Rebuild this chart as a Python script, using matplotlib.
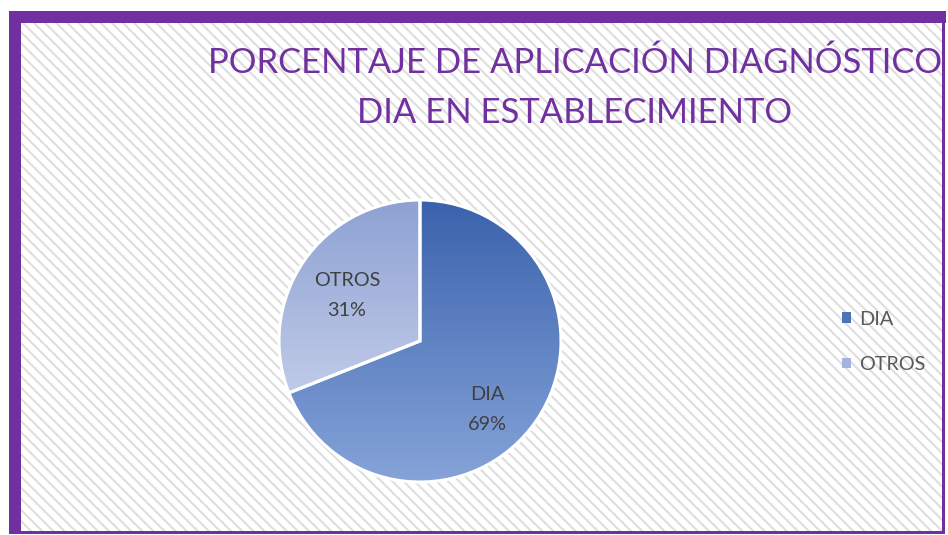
import matplotlib
matplotlib.use("Agg")
import matplotlib.pyplot as plt
import numpy as np
from matplotlib.patches import Rectangle, Patch
from matplotlib.colors import LinearSegmentedColormap

labels = ["DIA", "OTROS"]
values = [69, 31]
top_colors = ["#3a62ac", "#8ea1d3"]
bottom_colors = ["#86a4d9", "#c0cbe8"]
legend_colors = ["#4d72b8", "#a5b4de"]
title_lines = ["PORCENTAJE DE APLICACIÓN DIAGNÓSTICO", "DIA EN ESTABLECIMIENTO"]

W, H = 948, 535
fig = plt.figure(figsize=(W / 100, H / 100), dpi=100)
fig.patch.set_facecolor("white")

def fx(x): return x / W
def fy(y): return 1 - y / H

plt.rcParams['hatch.linewidth'] = 1.5
bg = Rectangle((fx(21), fy(531)), fx(943) - fx(21), fy(23) - fy(531),
               transform=fig.transFigure, facecolor="white", edgecolor="#dedede",
               hatch="\\\\\\", linewidth=0, zorder=0)
fig.add_artist(bg)

purple = "#7030a0"
def prect(x0, y0, x1, y1):
    fig.add_artist(Rectangle((fx(x0), fy(y1)), fx(x1) - fx(x0), fy(y0) - fy(y1),
                             transform=fig.transFigure, facecolor=purple,
                             edgecolor="none", zorder=5))
prect(9, 11, 946, 23)    # top
prect(9, 11, 21, 534)    # left
prect(942, 11, 945, 534) # right
prect(9, 531, 945, 534)  # bottom

# Pie axes
cx, cy, r = 420, 341, 141
ax = fig.add_axes([fx(cx - r), fy(cy + r), 2 * r / W, 2 * r / H])
ax.patch.set_alpha(0)
wedges, _ = ax.pie(values, startangle=90, counterclock=False,
                   wedgeprops=dict(edgecolor="white", linewidth=2.2))
ax.set_xlim(-1, 1)
ax.set_ylim(-1, 1)
ax.set_aspect("equal")
ax.axis("off")

for w, tc, bc in zip(wedges, top_colors, bottom_colors):
    verts = w.get_path().vertices
    ymin, ymax = verts[:, 1].min(), verts[:, 1].max()
    cmap = LinearSegmentedColormap.from_list("g", [bc, tc])
    grad = np.linspace(0, 1, 256).reshape(-1, 1)
    im = ax.imshow(grad, cmap=cmap, origin="lower", extent=(-1, 1, ymin, ymax),
                   aspect="auto", zorder=1, interpolation="bilinear")
    im.set_clip_path(w)
    w.set_facecolor("none")
    w.set_zorder(2)
    w.set_clip_on(False)

# labels
total = sum(values)
label_pos = [(487, 395), (347, 281)]
for lab, v, (px, py) in zip(labels, values, label_pos):
    fig.text(fx(px), fy(py), lab, ha="center", va="center",
             fontsize=14.3, color="#404040", family="Lato", zorder=6)
    fig.text(fx(px), fy(py + 29), f"{round(100 * v / total)}%", ha="center", va="center",
             fontsize=14.3, color="#404040", family="Lato", zorder=6)

for line, base in zip(title_lines, [73, 123]):
    fig.text(fx(575), fy(base), line, ha="center", va="baseline", fontsize=24.9,
             color=purple, family="Lato", zorder=6)

handles = [Patch(facecolor=c, edgecolor="none") for c in legend_colors]
leg = fig.legend(handles, labels, loc="center left", bbox_to_anchor=(fx(832), fy(342)),
                 frameon=False, handlelength=0.45, handleheight=0.45, handletextpad=0.4,
                 labelspacing=1.42, borderpad=0, prop=dict(family="Lato", size=14.3))
for t in leg.get_texts():
    t.set_color("#595959")

fig.savefig("out.png", dpi=100)
